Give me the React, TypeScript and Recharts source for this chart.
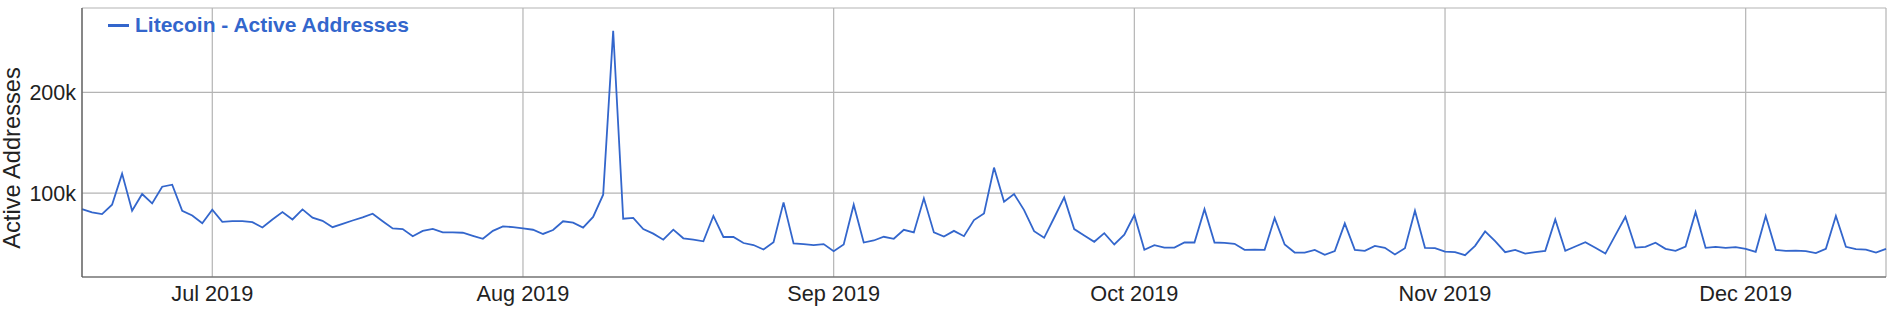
import React from 'react';
import { LineChart, Line, XAxis, YAxis, CartesianGrid, Legend } from 'recharts';

// Daily values, 2019-06-18 .. 2019-12-15, in thousands of active addresses
const START = Date.UTC(2019, 5, 18);
const DAY = 86400000;

const activeAddressesK = [
  // Jun 18-30
  84, 80.7, 79, 88.4, 119.3, 82.4, 99, 89.7, 106.3, 108.3, 82.4, 77.7, 70,
  // Jul
  83.4, 71.4, 72, 72, 71, 65.8, 73.7, 81, 73.7, 83.7, 75.5, 72.4, 66, 69.4, 72.7, 75.7,
  79.4, 72, 64.8, 64.1, 57.1, 62.4, 64.4, 60.8, 60.8, 60.5, 57.5, 54.5, 62.4, 66.8, 66.1,
  // Aug
  64.8, 63.5, 59.3, 63.2, 71.9, 70.5, 65.6, 76.2, 98.3, 261.3, 74.5, 75.2, 64.2, 59.6, 53.6,
  63.6, 55, 53.6, 52, 77.2, 56.3, 56.3, 50.3, 48.3, 43.8, 51.1, 90.7, 49.8, 49.2, 48.2, 49.2,
  // Sep
  42.2, 48.8, 88.4, 50.8, 52.8, 56.5, 54.5, 63.4, 60.8, 94.7, 60.8, 56.8, 62.4, 57.1, 73.1,
  79.7, 125.3, 91.4, 99, 83, 62.1, 55.5, 75.4, 95.7, 64.1, 57.8, 51.5, 60.1, 48.8, 58.5,
  // Oct
  78.1, 43.5, 48.2, 45.8, 45.8, 50.8, 50.8, 84, 50.8, 50.5, 49.5, 43.5, 43.8, 43.5, 75.1,
  48.8, 40.8, 40.8, 43.5, 38.5, 42.2, 69.8, 43.5, 42.5, 47.5, 45.5, 38.9, 45.2, 82.4, 45.5, 45.2,
  // Nov
  41.8, 41.2, 38.2, 47.5, 61.8, 52.1, 41.2, 43.5, 39.8, 41.2, 42.5, 73.7, 42.5, 46.8, 51.1,
  45.5, 39.8, 58.1, 76.4, 45.8, 46.5, 50.6, 44.5, 42.5, 46.8, 81, 45.5, 46.5, 45.5, 46.2,
  // Dec 1-15
  44.5, 41.5, 77.1, 43.5, 42.5, 42.8, 42.2, 40.2, 44.5, 77.1, 46.5, 44.2, 43.8, 40.8, 44.5,
];

const monthTickDates = ['2019-07-01', '2019-08-01', '2019-09-01', '2019-10-01', '2019-11-01', '2019-12-01'];
const monthTickLabels = ['Jul 2019', 'Aug 2019', 'Sep 2019', 'Oct 2019', 'Nov 2019', 'Dec 2019'];
const yTicks = [100, 200];
const yDomain = [16.5, 284];
const seriesName = 'Litecoin - Active Addresses';
const yTitle = 'Active Addresses';

const monthTicks = monthTickDates.map((s) => Date.parse(s + 'T00:00:00Z'));
const data = activeAddressesK.map((v, i) => ({ t: START + i * DAY, v }));

const FONT = 'Arial, "Liberation Sans", sans-serif';
const BLUE = '#3366cc';

const LegendContent = () => (
  <div style={{ display: 'flex', alignItems: 'center', fontFamily: FONT, whiteSpace: 'nowrap' }}>
    <div style={{ width: 21, height: 3, background: BLUE, marginRight: 6 }} />
    <span style={{ color: BLUE, fontWeight: 'bold', fontSize: 21 }}>{seriesName}</span>
  </div>
);

export default function App() {
  return (
    <div style={{ position: 'absolute', left: 0, top: 0, width: 1891, height: 309, background: '#fff' }}>
      <LineChart width={1891} height={309} data={data} margin={{ top: 8, right: 5, bottom: 0, left: 0 }}>
        <CartesianGrid stroke="#b4b4b4" strokeWidth={1.2} />
        <XAxis
          dataKey="t"
          type="number"
          domain={[START, START + 180 * DAY]}
          ticks={monthTicks}
          interval={0}
          tickFormatter={(v: number) => monthTickLabels[monthTicks.indexOf(v)] ?? ''}
          axisLine={{ stroke: '#555', strokeWidth: 1.2 }}
          tickLine={false}
          tickSize={0}
          tickMargin={9}
          height={32}
          tick={{ fill: '#222', fontSize: 21.7, fontFamily: FONT }}
        />
        <YAxis
          type="number"
          domain={yDomain}
          ticks={yTicks}
          interval={0}
          allowDataOverflow
          tickFormatter={(v: number) => `${v}k`}
          axisLine={{ stroke: '#555', strokeWidth: 1.2 }}
          tickLine={false}
          tickSize={0}
          tickMargin={6}
          width={82}
          tick={{ fill: '#222', fontSize: 21.5, fontFamily: FONT }}
          label={() => (
            <text
              x={12}
              y={158}
              transform="rotate(-90, 12, 158)"
              textAnchor="middle"
              dominantBaseline="central"
              fill="#222"
              fontSize={23.7}
              fontFamily={FONT}
            >
              {yTitle}
            </text>
          )}
        />
        <Legend
          layout="horizontal"
          verticalAlign="middle"
          align="center"
          content={<LegendContent />}
          wrapperStyle={{ top: 13, left: 108, width: 'auto', height: 'auto' }}
        />
        <Line
          type="linear"
          dataKey="v"
          name={seriesName}
          stroke={BLUE}
          strokeWidth={1.8}
          dot={false}
          activeDot={false}
          isAnimationActive={false}
        />
      </LineChart>
    </div>
  );
}
